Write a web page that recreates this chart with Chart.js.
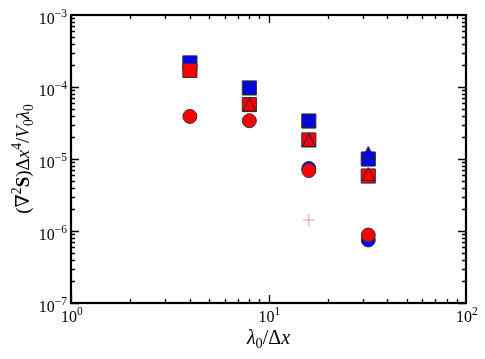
<!DOCTYPE html>
<html>
<head>
<meta charset="utf-8">
<script src="https://cdn.jsdelivr.net/npm/chart.js@4"></script>
<style>
  body { margin: 0; background: #fff; }
</style>
</head>
<body>
<canvas id="myChart" width="485" height="359"></canvas>
<script>
// Datos: lambda0/dx y los valores de cada serie (null = sin punto)
var pasos = [4, 8, 16, 32];
var cuadradoAzul = [2.16e-4, 9.7e-5, 3.37e-5, 1.0e-5];
var cuadradoRojo = [1.70e-4, 5.7e-5, 1.84e-5, 5.8e-6];
var circuloRojo = [3.9e-5, 3.4e-5, 6.9e-6, 8.8e-7];
var circuloAzul = [null, null, 7.4e-6, 7.5e-7];
var trianguloAzul = [null, 9.7e-5, 3.37e-5, 1.21e-5];
var trianguloRojo = [null, 5.7e-5, 1.84e-5, 6.2e-6];
var cruzRoja = [null, null, 1.42e-6, null];
var cruzAzul = [null, null, 1.84e-5, null];

// Etiquetas de los ejes (exponentes de las decadas)
var decadasX = [0, 1, 2];
var decadasY = [-7, -6, -5, -4, -3];

var FUENTE = '"Liberation Serif", "DejaVu Serif", serif';

function puntos(valores) {
    var res = [];
    for (var i = 0; i < pasos.length; i++) {
        if (valores[i] !== null) res.push({ x: pasos[i], y: valores[i] });
    }
    return res;
}

// Triangulo que llena el cuadrado (como en la figura original)
function marcaTriangulo(color) {
    var c = document.createElement('canvas');
    c.width = 16; c.height = 16;
    var g = c.getContext('2d');
    g.beginPath();
    g.moveTo(8, 1.5);
    g.lineTo(14.5, 14.5);
    g.lineTo(1.5, 14.5);
    g.closePath();
    g.fillStyle = color;
    g.fill();
    g.strokeStyle = '#222';
    g.lineWidth = 1;
    g.stroke();
    return c;
}

// Texto con subindices, superindices, cursiva y negrita
function anchoTrozos(ctx, trozos, tam) {
    var w = 0;
    trozos.forEach(function (t) {
        var s = (t.sup || t.sub) ? tam * 0.72 : tam;
        ctx.font = (t.i ? 'italic ' : '') + (t.b ? 'bold ' : '') + s + 'px ' + FUENTE;
        w += ctx.measureText(t.t).width;
    });
    return w;
}

function dibujarTrozos(ctx, trozos, x, y, tam) {
    trozos.forEach(function (t) {
        var s = (t.sup || t.sub) ? tam * 0.72 : tam;
        var dy = t.sup ? -tam * 0.42 : (t.sub ? tam * 0.22 : 0);
        ctx.font = (t.i ? 'italic ' : '') + (t.b ? 'bold ' : '') + s + 'px ' + FUENTE;
        ctx.fillText(t.t, x, y + dy);
        x += ctx.measureText(t.t).width;
    });
}

var marco = {
    id: 'marco',
    afterDraw: function (chart) {
        var ctx = chart.ctx;
        var a = chart.chartArea;
        var sx = chart.scales.x, sy = chart.scales.y;
        ctx.save();
        ctx.strokeStyle = '#000';
        ctx.fillStyle = '#000';

        // marcas hacia dentro en los cuatro lados
        ctx.lineWidth = 1.3;
        ctx.beginPath();
        for (var d = 0; d < 2; d++) {
            for (var k = 1; k <= 9; k++) {
                var px = Math.round(sx.getPixelForValue(k * Math.pow(10, d))) + 0.5;
                var l = k === 1 ? 8 : 4;
                ctx.moveTo(px, a.bottom); ctx.lineTo(px, a.bottom - l);
                ctx.moveTo(px, a.top); ctx.lineTo(px, a.top + l);
            }
        }
        for (var e = -7; e < -3; e++) {
            for (var m = 1; m <= 9; m++) {
                var py = Math.round(sy.getPixelForValue(m * Math.pow(10, e))) + 0.5;
                var ly = m === 1 ? 8 : 4;
                ctx.moveTo(a.left, py); ctx.lineTo(a.left + ly, py);
                ctx.moveTo(a.right, py); ctx.lineTo(a.right - ly, py);
            }
        }
        ctx.stroke();

        ctx.lineWidth = 2.2;
        ctx.strokeRect(a.left, a.top, a.right - a.left, a.bottom - a.top);

        // etiquetas de las decadas
        ctx.textBaseline = 'alphabetic';
        ctx.textAlign = 'left';
        var tam = 16;
        decadasY.forEach(function (ex) {
            var trozos = [{ t: '10' }, { t: '\u2212' + Math.abs(ex), sup: true }];
            var w = anchoTrozos(ctx, trozos, tam);
            var py = sy.getPixelForValue(Math.pow(10, ex));
            dibujarTrozos(ctx, trozos, a.left - 4 - w, py + 9, tam);
        });
        decadasX.forEach(function (ex) {
            var trozos = [{ t: '10' }, { t: String(ex), sup: true }];
            var w = anchoTrozos(ctx, trozos, tam);
            var px = sx.getPixelForValue(Math.pow(10, ex));
            dibujarTrozos(ctx, trozos, px - w / 2 + 1, a.bottom + 19, tam);
        });

        // titulos de los ejes
        var tituloX = [{ t: '\u03bb', i: true }, { t: '0', sub: true }, { t: '/\u0394' }, { t: 'x', i: true }];
        var wx = anchoTrozos(ctx, tituloX, 20);
        dibujarTrozos(ctx, tituloX, (a.left + a.right) / 2 - wx / 2, 344, 20);

        var tituloY = [{ t: '(\u2207' }, { t: '2', sup: true }, { t: 'S', b: true }, { t: ')\u0394' },
            { t: 'x', i: true }, { t: '4', sup: true }, { t: '/' }, { t: 'V', i: true }, { t: '0', sub: true },
            { t: '\u03bb', i: true }, { t: '0', sub: true }];
        var wy = anchoTrozos(ctx, tituloY, 19);
        ctx.translate(29, (a.top + a.bottom) / 2);
        ctx.rotate(-Math.PI / 2);
        dibujarTrozos(ctx, tituloY, -wy / 2, 0, 19);
        ctx.restore();
    }
};

function serie(datos, estilo, relleno, radio, borde, anchoBorde) {
    return {
        data: puntos(datos),
        pointStyle: estilo,
        pointRadius: radio,
        pointHoverRadius: radio,
        backgroundColor: relleno,
        borderColor: borde,
        pointBorderWidth: anchoBorde,
        showLine: false
    };
}

var ctx = document.getElementById('myChart').getContext('2d');
// el primer conjunto queda encima
var myChart = new Chart(ctx, {
    type: 'scatter',
    data: {
        datasets: [
            serie(cruzRoja, 'cross', 'rgba(255,0,0,0.5)', 6, 'rgba(255,60,60,0.55)', 1),
            serie(cruzAzul, 'cross', 'rgba(0,0,255,0.4)', 6, 'rgba(90,40,200,0.5)', 1),
            serie(trianguloAzul, marcaTriangulo('#0000ff'), '#0000ff', 8, '#222', 1),
            serie(trianguloRojo, marcaTriangulo('#ff0000'), '#ff0000', 8, '#222', 1),
            serie(cuadradoRojo, 'rect', '#ff0000', 10, '#333', 1),
            serie(cuadradoAzul, 'rect', '#0000ff', 10, '#333', 1),
            serie(circuloRojo, 'circle', '#ff0000', 7, '#333', 1),
            serie(circuloAzul, 'circle', '#0000ff', 7, '#333', 1)
        ]
    },
    options: {
        responsive: false,
        animation: false,
        events: [],
        layout: { padding: { left: 71, right: 19, top: 15, bottom: 56 } },
        plugins: { legend: { display: false }, tooltip: { enabled: false } },
        scales: {
            x: { type: 'logarithmic', min: 1, max: 100, display: false },
            y: { type: 'logarithmic', min: 1e-7, max: 1e-3, display: false }
        }
    },
    plugins: [marco]
});
</script>
</body>
</html>
